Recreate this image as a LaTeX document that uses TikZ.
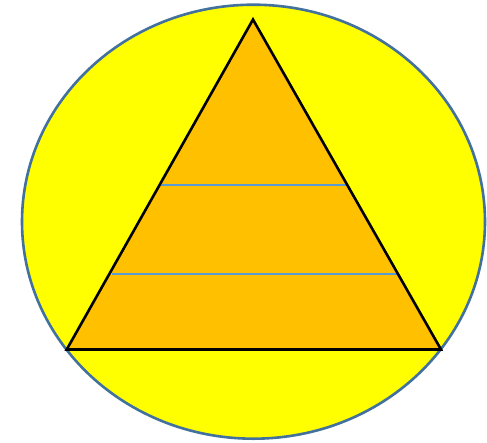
\documentclass[tikz,border=0pt]{standalone}
\definecolor{ringblue}{HTML}{41719C}
\definecolor{lineblue}{HTML}{5B9BD5}
\definecolor{pyrorange}{HTML}{FFC000}
\definecolor{bgyellow}{HTML}{FFFF00}
\begin{document}
\begin{tikzpicture}[x=1pt,y=-1pt,
  circ/.style={fill=bgyellow,draw=ringblue,line width=2.6pt},
  pyr/.style={draw=black,line width=2.6pt,line join=miter},
  tier/.style={draw=lineblue,line width=2.2pt}]
\useasboundingbox (0,0) rectangle (487,442);
\fill[white] (0,0) rectangle (487,442);
\draw[circ] (253.5,221.7) ellipse [x radius=231.5, y radius=217];
\coordinate (apex) at (253,19.5);
\coordinate (bl) at (66.7,349.5);
\coordinate (br) at (441,349.5);
\coordinate (l1a) at (161,185);
\coordinate (l1b) at (347,185);
\coordinate (l2a) at (111.5,274);
\coordinate (l2b) at (397,274);
\fill[pyrorange] (apex) -- (bl) -- (br) -- cycle;
\draw[tier] (l1a) -- (l1b);
\draw[tier] (l2a) -- (l2b);
\draw[pyr] (apex) -- (bl) -- (br) -- cycle;
\end{tikzpicture}
\end{document}
